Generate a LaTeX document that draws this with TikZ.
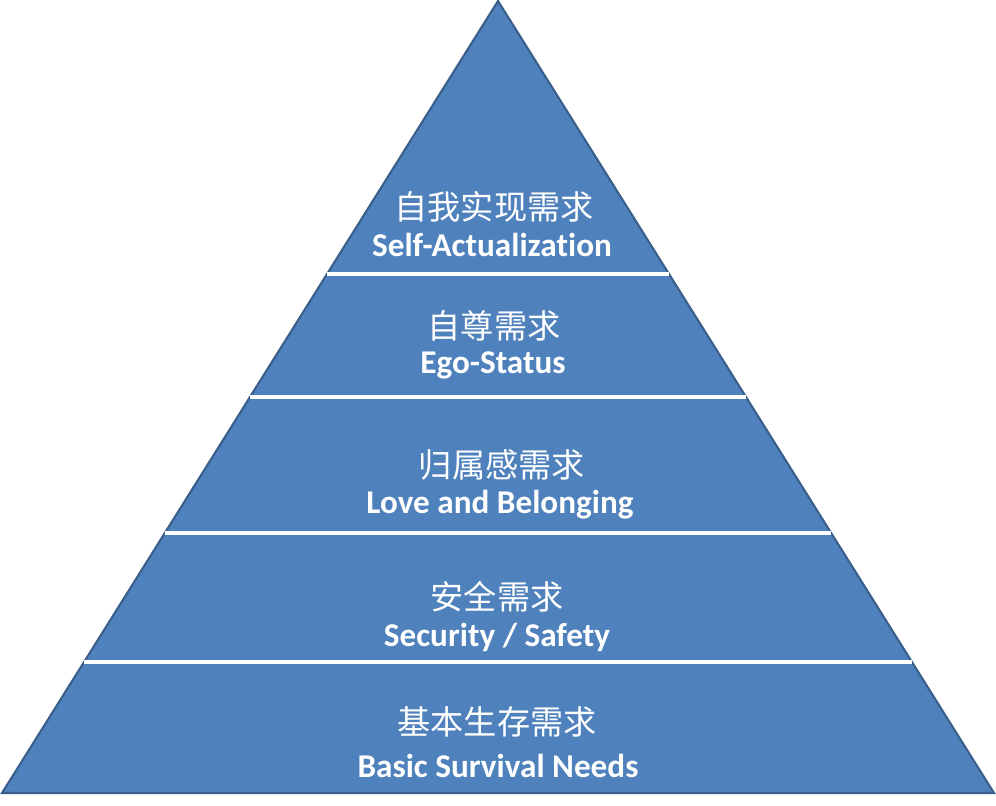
\documentclass[tikz,border=0pt]{standalone}
\usepackage{fontspec}
\setmainfont[RawFeature={-liga;-clig;-dlig;-calt}]{Carlito}
\newfontfamily\cjk{Noto Sans CJK SC}
\usepackage{tikz}
\usetikzlibrary{calc}
\definecolor{layerblue}{HTML}{4F81BD}
\definecolor{edgeblue}{HTML}{3A5F8B}

\begin{document}
\begin{tikzpicture}[
    x=0.02cm,
    y=-0.02cm,
    layer/.style={
        fill=layerblue,
        draw=edgeblue,
        line width=1.2pt,
        line join=miter
    },
    divider/.style={
        draw=white,
        line width=1.8pt
    },
    zh/.style={
        text=white,
        font=\cjk\fontsize{18.9}{22}\selectfont
    },
    en/.style={
        text=white,
        font=\bfseries\fontsize{18.9}{22}\selectfont
    }
]
\useasboundingbox (0,0) rectangle (996,805);

% pyramid outline
\coordinate (apex) at (498,1);
\coordinate (bl) at (2,793);
\coordinate (br) at (994,793);
\path[layer] (apex) -- (bl) -- (br) -- cycle;

% dividers between levels
\draw[divider] ($(apex)!0.3447!(bl)$) -- ($(apex)!0.3447!(br)$);
\draw[divider] ($(apex)!0.5!(bl)$) -- ($(apex)!0.5!(br)$);
\draw[divider] ($(apex)!0.6717!(bl)$) -- ($(apex)!0.6717!(br)$);
\draw[divider] ($(apex)!0.8346!(bl)$) -- ($(apex)!0.8346!(br)$);

% LEVEL: top
\node[zh] (selfzh) at (494,207) {自我实现需求};
\node[en] (selfen) at (492,245) {Self-Actualization};

% LEVEL: esteem
\node[zh] (egozh) at (494,326) {自尊需求};
\node[en] (egoen) at (493,365) {Ego-Status};

% LEVEL: belonging
\node[zh] (lovezh) at (502,465) {归属感需求};
\node[en] (loveen) at (500,505) {Love and Belonging};

% LEVEL: safety
\node[zh] (safezh) at (497,597) {安全需求};
\node[en] (safeen) at (497,637) {Security / Safety};

% LEVEL: base
\node[zh] (basezh) at (497,722) {基本生存需求};
\node[en] (baseen) at (498,766) {Basic Survival Needs};

\end{tikzpicture}
\end{document}
